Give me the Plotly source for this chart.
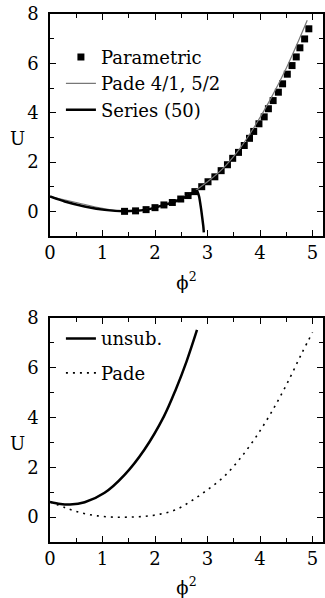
import plotly.graph_objects as go

# ---- top panel data ----
param_x = [1.42, 1.63, 1.83, 2.00, 2.17, 2.33, 2.49, 2.63, 2.76, 2.89, 3.01, 3.14, 3.26, 3.38, 3.48,
           3.59, 3.70, 3.80, 3.88, 3.98, 4.08, 4.16, 4.25, 4.35, 4.43, 4.52, 4.61, 4.69, 4.76, 4.85, 4.93]
param_u = [0.00, 0.02, 0.07, 0.15, 0.26, 0.36, 0.50, 0.64, 0.80, 1.00, 1.20, 1.40, 1.65, 1.89, 2.15,
           2.39, 2.67, 2.96, 3.24, 3.55, 3.83, 4.16, 4.49, 4.83, 5.17, 5.56, 5.91, 6.26, 6.63, 6.99, 7.40]

pade_top_x = [0, 0.5, 1.0, 1.4, 1.8, 2.2, 2.6, 3.0, 3.3, 3.6, 3.9, 4.2, 4.5, 4.7, 4.9]
pade_top_u = [0.60, 0.36, 0.12, 0.00, 0.06, 0.27, 0.62, 1.20, 1.75, 2.50, 3.45, 4.55, 5.80, 6.75, 7.75]

series_x = [0, 0.28, 0.66, 1.04, 1.42, 1.63, 1.83, 2.00, 2.17, 2.33, 2.49, 2.63, 2.72, 2.77,
            2.81, 2.84, 2.88, 2.92, 2.93]
series_u = [0.60, 0.40, 0.20, 0.06, 0.00, 0.02, 0.07, 0.15, 0.26, 0.36, 0.50, 0.64, 0.76, 0.84,
            0.78, 0.60, 0.07, -0.60, -0.85]

# ---- bottom panel data ----
unsub_x = [0, 0.2, 0.38, 0.66, 1.04, 1.42, 1.80, 2.17, 2.40, 2.60, 2.80]
unsub_u = [0.61, 0.53, 0.51, 0.60, 0.98, 1.70, 2.72, 4.05, 5.15, 6.25, 7.52]

pade_x = [0, 0.3, 0.6, 0.9, 1.2, 1.5, 1.8, 2.1, 2.4, 2.7, 3.0, 3.3, 3.6, 3.9, 4.2, 4.5, 4.8, 5.0]
pade_u = [0.61, 0.37, 0.17, 0.05, 0.00, 0.00, 0.03, 0.12, 0.30, 0.66, 1.10, 1.60, 2.30, 3.15,
          4.15, 5.30, 6.60, 7.42]

x_ticks = [0, 1, 2, 3, 4, 5]
y_ticks = [0, 2, 4, 6, 8]

FONT = "DejaVu Serif"

fig = go.Figure()

fig.add_trace(go.Scatter(x=param_x, y=param_u, mode="markers", name="Parametric",
                         marker=dict(symbol="square", size=7, color="black"),
                         xaxis="x", yaxis="y", legend="legend", legendgroup="a"))
fig.add_trace(go.Scatter(x=pade_top_x, y=pade_top_u, mode="lines", name="Pade 4/1, 5/2",
                         line=dict(color="#777777", width=1.2, shape="spline", smoothing=0.8),
                         xaxis="x", yaxis="y", legend="legend", legendgroup="a"))
fig.add_trace(go.Scatter(x=series_x, y=series_u, mode="lines", name="Series (50)",
                         line=dict(color="black", width=2.5, shape="spline", smoothing=0.4),
                         xaxis="x", yaxis="y", legend="legend", legendgroup="a"))

fig.add_trace(go.Scatter(x=unsub_x, y=unsub_u, mode="lines", name="unsub.",
                         line=dict(color="black", width=2.5, shape="spline", smoothing=1.0),
                         xaxis="x2", yaxis="y2", legend="legend2", legendgroup="b1"))
fig.add_trace(go.Scatter(x=pade_x, y=pade_u, mode="lines", name="Pade",
                         line=dict(color="black", width=1.6, dash="2px,5px", shape="spline", smoothing=1.0),
                         xaxis="x2", yaxis="y2", legend="legend2", legendgroup="b2"))

axis_common = dict(showline=True, linecolor="black", linewidth=1.5, mirror="ticks",
                   ticks="inside", ticklen=6, tickwidth=1.2, tickcolor="black",
                   showgrid=False, zeroline=False,
                   tickfont=dict(family=FONT, size=18, color="black"))

xa = dict(axis_common, range=[0, 5.2], tickvals=x_ticks,
          minor=dict(dtick=0.5, ticks="inside", ticklen=4, tickcolor="black", showgrid=False),
          title=dict(text="ϕ<sup>2</sup>", font=dict(family=FONT, size=18, color="black"), standoff=14))
ya = dict(axis_common, range=[-1, 8], tickvals=y_ticks, ticklabelstandoff=6,
          minor=dict(dtick=1, ticks="inside", ticklen=4, tickcolor="black", showgrid=False))

fig.update_layout(
    width=325, height=598,
    margin=dict(l=50, r=0, t=14, b=56),
    plot_bgcolor="white", paper_bgcolor="white",
    showlegend=True,
    xaxis=dict(xa, domain=[0, 1], anchor="y"),
    yaxis=dict(ya, domain=[0.5795, 1.0], anchor="x"),
    xaxis2=dict(xa, domain=[0, 1], anchor="y2"),
    yaxis2=dict(ya, domain=[0.0, 0.4242], anchor="x2"),
    legend=dict(x=0.04, y=0.953, xanchor="left", yanchor="top", bgcolor="rgba(0,0,0,0)",
                font=dict(family=FONT, size=18, color="black"), tracegroupgap=0),
    legend2=dict(x=0.04, y=0.42, xanchor="left", yanchor="top", bgcolor="rgba(0,0,0,0)",
                 font=dict(family=FONT, size=18, color="black"), tracegroupgap=8),
    annotations=[
        dict(text="U", xref="paper", yref="paper", x=-0.12, y=0.765, xanchor="center",
             yanchor="middle", showarrow=False, font=dict(family=FONT, size=18, color="black")),
        dict(text="U", xref="paper", yref="paper", x=-0.12, y=0.1875, xanchor="center",
             yanchor="middle", showarrow=False, font=dict(family=FONT, size=18, color="black")),
    ],
)

fig.write_html("out.html")
